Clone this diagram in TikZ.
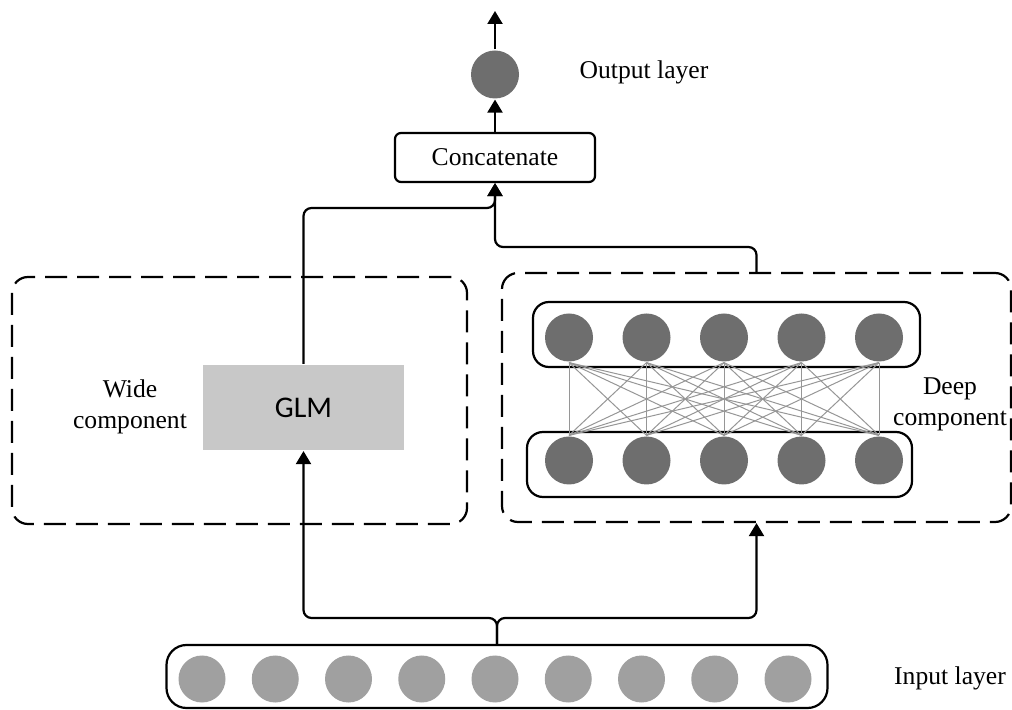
\documentclass[tikz,border=0pt]{standalone}
\usepackage{fontspec}
\setmainfont{Liberation Serif}
\newfontfamily\glmfont{Carlito}
\usetikzlibrary{calc,positioning,arrows.meta}
\definecolor{dkneuron}{RGB}{110,110,110}
\definecolor{ltneuron}{RGB}{160,160,160}
\definecolor{glmgray}{RGB}{200,200,200}
\definecolor{wiregray}{RGB}{150,150,150}

\begin{document}
\begin{tikzpicture}[x=0.5pt, y=-0.5pt, font=\fontsize{12.8}{15.5}\selectfont,
  line width=1.1pt,
  arr/.style={-{Triangle[length=6.5pt,width=7.5pt]}, rounded corners=4pt},
  grp/.style={draw, dashed, dash pattern=on 11pt off 5pt, rounded corners=8pt, inner sep=0pt},
  row/.style={draw, rounded corners=8pt, inner sep=0pt, minimum height=32.5pt},
  dknode/.style={circle, fill=dkneuron, inner sep=0pt, minimum size=24pt},
  ltnode/.style={circle, fill=ltneuron, inner sep=0pt, minimum size=23.5pt},
  lbl/.style={align=center, inner sep=0pt}]
\useasboundingbox (0,0) rectangle (1012,710);

% groups
\node[grp, minimum width=227.5pt, minimum height=123.5pt] (wide) at (239.5,400.5) {};
\node[grp, minimum width=254.5pt, minimum height=124.5pt] (deep) at (756.5,397.5) {};

% output part
\node[dknode] (out) at (495,74.5) {};
\coordinate (top) at (495,11);
\node[draw, rounded corners=3pt, minimum width=100pt, minimum height=24.5pt] (cat) at (495,157.5) {Concatenate};
\node[lbl] (outlbl) at (644,72) {Output layer};

% wide part
\node[fill=glmgray, minimum width=100.5pt, minimum height=42.5pt, font=\glmfont\fontsize{15}{18}\selectfont] (glm) at (303.5,407.5) {GLM};
\node[lbl] (widelbl) at (130,407) {Wide\\component};

% deep part
\node[row, minimum width=193.5pt] (hid2) at (726.5,334.5) {};
\node[row, minimum width=192.5pt] (hid1) at (719.5,464.5) {};
\foreach \i in {1,...,5} {
  \node[dknode] (u\i) at ({491.5+77.5*\i},337.5) {};
  \node[dknode] (d\i) at ({491.5+77.5*\i},460.5) {};
}
\foreach \i in {1,...,5}
  \foreach \j in {1,...,5}
    \draw[wiregray, line width=0.5pt] (u\i.south) -- (d\j.north);
\node[lbl] (deeplbl) at (950,404) {Deep\\component};

% input part
\node[draw, rounded corners=10pt, minimum width=330.5pt, minimum height=31.5pt] (inp) at (497,676.5) {};
\foreach \i in {0,...,8}
  \node[ltnode] (x\i) at ({202+73.25*\i},679) {};
\node[lbl] (inlbl) at (950,678) {Input layer};

% connectors
\coordinate (split) at (497,618);
\coordinate (mergeL) at (495,208);
\coordinate (mergeR) at (495,247);
\draw[arr] (inp.north) -- (split) -| (glm.south);
\draw[arr] (inp.north) -- (split) -| (deep.south);
\draw[arr] (glm.north) |- (mergeL) -- (cat.south);
\draw[arr] (deep.north) |- (mergeR) -- (cat.south);
\draw[arr] (cat.north) -- (out.south);
\draw[arr] (out.north) -- (top);
\end{tikzpicture}
\end{document}
